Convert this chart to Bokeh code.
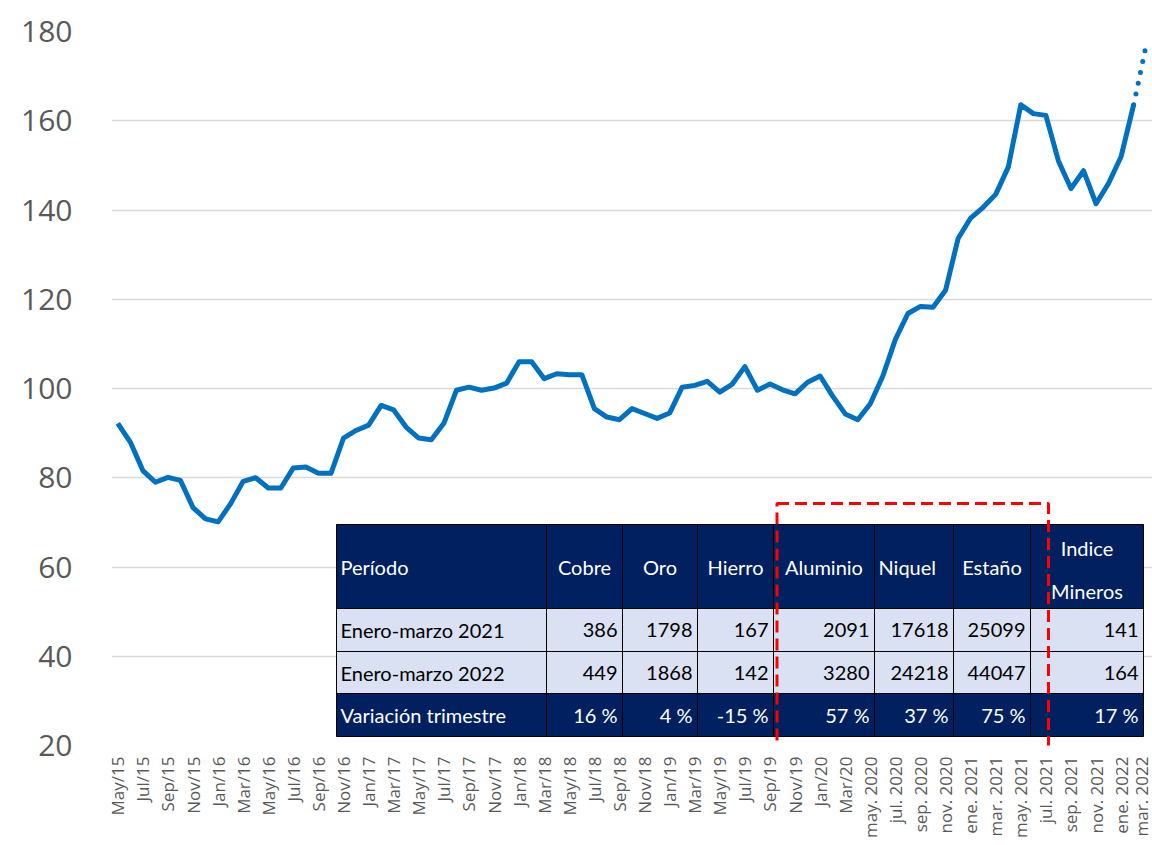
import math
from bokeh.plotting import figure
from bokeh.models import Range1d, FixedTicker, BoxAnnotation
from bokeh.core.properties import value
from bokeh.embed import file_html
from bokeh.resources import INLINE

# ---------------- data ----------------
tick_labels = [
    "May/15", "Jul/15", "Sep/15", "Nov/15", "Jan/16", "Mar/16", "May/16", "Jul/16",
    "Sep/16", "Nov/16", "Jan/17", "Mar/17", "May/17", "Jul/17", "Sep/17", "Nov/17",
    "Jan/18", "Mar/18", "May/18", "Jul/18", "Sep/18", "Nov/18", "Jan/19", "Mar/19",
    "May/19", "Jul/19", "Sep/19", "Nov/19", "Jan/20", "Mar/20",
    "may. 2020", "jul. 2020", "sep. 2020", "nov. 2020", "ene. 2021", "mar. 2021",
    "may. 2021", "jul. 2021", "sep. 2021", "nov. 2021", "ene. 2022", "mar. 2022",
]

# monthly index, May 2015 .. Feb 2022
indice = [
    92.2, 88.0, 81.6, 79.0, 80.1, 79.4, 73.3, 70.8, 70.1, 74.2,
    79.2, 80.0, 77.7, 77.7, 82.2, 82.4, 81.0, 81.0, 88.9, 90.6,
    91.8, 96.2, 95.2, 91.3, 88.9, 88.5, 92.2, 99.6, 100.3, 99.6,
    100.1, 101.2, 106.0, 106.0, 102.2, 103.3, 103.1, 103.1, 95.5, 93.6,
    93.0, 95.5, 94.4, 93.3, 94.5, 100.3, 100.7, 101.6, 99.2, 101.0,
    104.9, 99.6, 101.0, 99.7, 98.8, 101.4, 102.8, 98.3, 94.3, 93.0,
    96.6, 102.8, 111.0, 116.8, 118.4, 118.2, 122.0, 133.6, 138.2, 140.6,
    143.5, 149.6, 163.6, 161.6, 161.2, 151.0, 144.8, 148.8, 141.4, 146.0,
    152.0, 163.6,
]
# projected value for Mar 2022 (dotted)
proyeccion = 177.0

table_header = ["Período", "Cobre", "Oro", "Hierro", "Aluminio", "Niquel", "Estaño"]
table_header_last = ["Indice", "Mineros"]
row_labels = ["Enero-marzo 2021", "Enero-marzo 2022", "Variación trimestre"]
q1_2021 = ["386", "1798", "167", "2091", "17618", "25099", "141"]
q1_2022 = ["449", "1868", "142", "3280", "24218", "44047", "164"]
variacion = ["16 %", "4 %", "-15 %", "57 %", "37 %", "75 %", "17 %"]

# ---------------- layout ----------------
OFF = 0
FRAME_L, FRAME_W, FRAME_T, FRAME_H = 111, 1041, 31, 714
X0, X1 = -0.5, len(indice) + 0.5
Y0, Y1 = 20, 180

def px(xi):
    return X0 + (xi - OFF - FRAME_L) / FRAME_W * (X1 - X0)

def py(yi):
    return Y1 - (yi - OFF - FRAME_T) / FRAME_H * (Y1 - Y0)

p = figure(
    width=FRAME_L + FRAME_W, height=840,
    frame_width=FRAME_W, frame_height=FRAME_H,
    min_border_left=FRAME_L, min_border_right=0, min_border_top=FRAME_T, min_border_bottom=95,
    x_range=Range1d(X0, X1), y_range=Range1d(Y0, Y1),
    output_backend="svg", toolbar_location=None,
)
p.outline_line_color = None
p.background_fill_color = "white"
p.border_fill_color = "white"

p.xgrid.grid_line_color = None
p.ygrid.grid_line_color = "#D9D9D9"
p.ygrid.grid_line_width = 1.5

p.yaxis.ticker = FixedTicker(ticks=list(range(20, 181, 20)))
p.yaxis.axis_line_color = None
p.yaxis.major_tick_line_color = None
p.yaxis.minor_tick_line_color = None
p.yaxis.major_label_standoff = 33
p.yaxis.major_label_text_font = "Open Sans"
p.yaxis.major_label_text_font_size = "30px"
p.yaxis.major_label_text_color = "#595959"

xt = list(range(0, 2 * len(tick_labels), 2))
p.xaxis.ticker = FixedTicker(ticks=xt)
p.xaxis.major_label_overrides = {t: l for t, l in zip(xt, tick_labels)}
p.xaxis.major_label_orientation = math.pi / 2
p.xaxis.axis_line_color = None
p.xaxis.major_tick_line_color = None
p.xaxis.minor_tick_line_color = None
p.xaxis.major_label_standoff = 5
p.xaxis.major_label_text_font = "Open Sans"
p.xaxis.major_label_text_font_size = "17px"
p.xaxis.major_label_text_color = "#595959"

xs = list(range(len(indice)))
p.line(xs, indice, line_color="#0070C0", line_width=5, line_join="round")
p.line([xs[-1], xs[-1] + 1], [indice[-1], proyeccion], line_color="#0070C0",
       line_width=5, line_dash="0 11", line_cap="round")

# ---------------- table ----------------
NAVY = "#002060"
LIGHT = "#D9E1F2"
col_edges = [336, 546, 622, 697, 773, 874, 953, 1030, 1143]
row_edges = [524, 608, 651, 693, 736]
row_fill = [NAVY, LIGHT, LIGHT, NAVY]

for r in range(4):
    p.quad(left=[px(col_edges[c]) for c in range(8)],
           right=[px(col_edges[c + 1]) for c in range(8)],
           bottom=[py(row_edges[r + 1])] * 8, top=[py(row_edges[r])] * 8,
           fill_color=row_fill[r], line_color="black", line_width=1)

FONT = value("Lato")
FS = "20px"

# header
hy = py((row_edges[0] + row_edges[1]) / 2)
p.text(x=[px(col_edges[0] + 4)], y=[hy], text=[table_header[0]], text_font=FONT,
       text_font_size=FS, text_color="white", text_align="left", text_baseline="middle")
cx = [px((col_edges[c] + col_edges[c + 1]) / 2) for c in (1, 2, 3, 4, 6)]
p.text(x=cx, y=[hy] * 5, text=[table_header[i] for i in (1, 2, 3, 4, 6)], text_font=FONT,
       text_font_size=FS, text_color="white", text_align="center", text_baseline="middle")
p.text(x=[px(col_edges[5] + 4)], y=[hy], text=[table_header[5]], text_font=FONT,
       text_font_size=FS, text_color="white", text_align="left", text_baseline="middle")
lastc = px((col_edges[7] + col_edges[8]) / 2)
p.text(x=[lastc, lastc], y=[py(547), py(590)], text=table_header_last, text_font=FONT,
       text_font_size=FS, text_color="white", text_align="center", text_baseline="middle")

rows = [q1_2021, q1_2022, variacion]
colors = ["black", "black", "white"]
for r in range(3):
    yc = py((row_edges[r + 1] + row_edges[r + 2]) / 2)
    p.text(x=[px(col_edges[0] + 4)], y=[yc], text=[row_labels[r]], text_font=FONT,
           text_font_size=FS, text_color=colors[r], text_align="left", text_baseline="middle")
    p.text(x=[px(col_edges[c + 2] - 5) for c in range(7)], y=[yc] * 7, text=rows[r],
           text_font=FONT, text_font_size=FS, text_color=colors[r],
           text_align="right", text_baseline="middle")

# red dashed highlight
p.add_layout(BoxAnnotation(left=px(776.5), right=px(1048), top=py(503), bottom=py(755),
                           fill_alpha=0, line_color="#FF0000", line_alpha=1.0, line_width=3,
                           line_dash="12 6", level="overlay"))

open("out.html", "w").write(file_html(p, INLINE))
